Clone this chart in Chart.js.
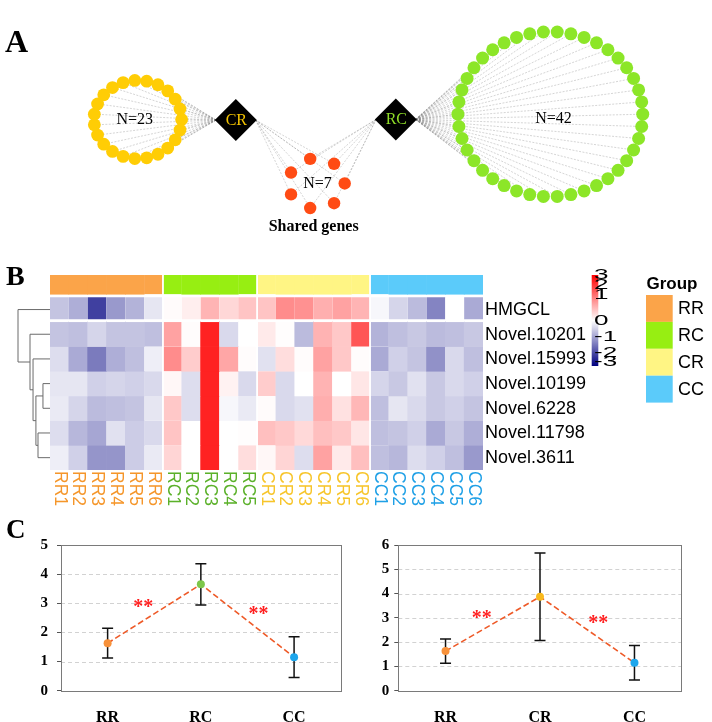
<!DOCTYPE html>
<html>
<head>
<meta charset="utf-8">
<title>Figure</title>
<script src="https://cdn.jsdelivr.net/npm/chart.js@4.4.1/dist/chart.umd.min.js"></script>
<style>
html,body{margin:0;padding:0;background:#fff;}
body{position:relative;width:712px;height:722px;overflow:hidden;}
canvas{position:absolute;display:block;}
</style>
</head>
<body>
<canvas id="net" width="712" height="262" style="left:0;top:0"></canvas>
<canvas id="heat" width="712" height="254" style="left:0;top:262px"></canvas>
<canvas id="c1" width="356" height="206" style="left:0;top:516px"></canvas>
<canvas id="c2" width="356" height="206" style="left:356px;top:516px"></canvas>
<script>
// ================= DATA =================
const hubNames = ['CR', 'RC'];
const netCounts = [23, 42, 7];            // CR-specific, RC-specific, shared
const sharedTitle = 'Shared genes';

const samples = ['RR1','RR2','RR3','RR4','RR5','RR6','RC1','RC2','RC3','RC4','RC5',
                 'CR1','CR2','CR3','CR4','CR5','CR6','CC1','CC2','CC3','CC4','CC5','CC6'];
const groups = ['RR','RC','CR','CC'];
const genes = ['HMGCL','Novel.10201','Novel.15993','Novel.10199','Novel.6228','Novel.11798','Novel.3611'];
const zHMGCL = [-0.7,-0.95,-2.25,-1.2,-0.9,-0.3, 0.05,0.2,0.88,0.47,0.7, 0.7,1.35,1.3,0.94,1.1,0.88, -0.1,-0.5,-0.8,-1.45,0.0,-1.0];
const z10201 = [-0.7,-0.75,-0.5,-0.7,-0.7,-0.75, 1.1,0.03,2.6,-0.45,0.0, 0.25,0.02,-0.8,0.9,0.65,2.0, -0.9,-0.75,-0.65,-0.8,-0.75,-0.65];
const z15993 = [-0.4,-1.0,-1.55,-0.95,-0.75,-0.2, 1.35,0.6,2.6,1.05,0.03, -0.35,0.4,0.03,1.1,0.65,0.03, -1.0,-0.55,-0.7,-1.3,-0.45,-0.75];
const z10199 = [-0.3,-0.3,-0.55,-0.5,-0.55,-0.45, 0.1,-0.4,2.6,0.15,-0.45, 0.6,-0.45,0.0,0.9,0.0,0.3, -0.5,-0.65,-0.35,-0.65,-0.45,-0.55];
const z6228  = [-0.25,-0.5,-0.8,-0.75,-0.7,-0.3, 0.65,-0.4,2.6,-0.1,-0.25, 0.05,-0.45,-0.35,0.95,0.35,0.85, -0.75,-0.3,-0.45,-0.65,-0.55,-0.7];
const z11798 = [-0.4,-0.85,-1.05,-0.35,-0.6,-0.45, 0.7,0.0,2.6,0.0,0.02, 0.75,0.65,0.45,0.75,0.65,0.3, -0.75,-0.7,-0.55,-1.0,-0.65,-0.95];
const z3611  = [-0.2,-0.55,-1.25,-1.25,-0.6,-0.25, 0.5,0.0,2.6,0.0,0.4, 0.1,0.5,-0.4,1.1,0.25,0.75, -0.75,-0.85,-0.4,-0.55,-0.75,-1.2];
const keyTicks = [3,2,1,0,-1,-2,-3];
// dendrogram merges: leaves 0..6 = genes (in order), 7+ = previous merges
const dendroA = [3, 5, 7, 2, 1, 0];
const dendroB = [4, 6, 8, 9, 10, 11];
const dendroH = [0.22, 0.375, 0.44, 0.53, 0.625, 1.0];

const groupsC1 = ['RR','RC','CC'];
const meanC1 = [1.63, 3.65, 1.15];
const errC1  = [0.51, 0.71, 0.70];
const groupsC2 = ['RR','CR','CC'];
const meanC2 = [1.63, 3.87, 1.15];
const errC2  = [0.50, 1.80, 0.71];
const ticksC1 = [0,1,2,3,4,5];
const ticksC2 = [0,1,2,3,4,5,6];
const sigMark = '**';

// ================= STYLE / LAYOUT =================
const SERIF = '"Liberation Serif", "Times New Roman", serif';
const SANS = '"Liberation Sans", Arial, sans-serif';
const groupFill = {RR:'#FBA449', RC:'#97EE12', CR:'#FFF584', CC:'#5BCBFA'};
const groupText = {RR:'#F5962A', RC:'#5BB12A', CR:'#F7C52A', CC:'#1FA0E6'};
const pointFill = {RR:'#F7913A', RC:'#7DC74A', CR:'#F9B91C', CC:'#1DA6EC'};
const groupOf = s => s.slice(0, 2);

Chart.defaults.animation = false;
Chart.defaults.events = [];
Chart.defaults.plugins.legend.display = false;
Chart.defaults.plugins.tooltip.enabled = false;
Chart.defaults.font.family = SANS;

function zColor(v) {
  v = Math.max(-3, Math.min(3, v));
  if (v >= 0) { const g = Math.round(255 * (1 - v / 3)); return `rgb(255,${g},${g})`; }
  const t = -v / 3, c = Math.round(255 * (1 - t)), b = Math.round(255 - 127 * t);
  return `rgb(${c},${c},${b})`;
}

// ---------- Panel A : network ----------
const NET = {
  hubs: [{x:228.3, y:118}, {x:398.3, y:117.3}], hubR: 21,
  rings: [{cx:124.1, cy:117.3, r:46.6}, {cx:562.5, cy:111, r:98.2}, {cx:314, cy:193.5, r:30}],
  nodeR: [6.4, 6.5, 6.2],
  nodeColor: ['#FFCD05', '#8CE628', '#FF4B14'],
  hubText: ['#F3C300', '#8EDC27'],
  labelOff: [{dx:-3.3, dy:0}, {dx:3.3, dy:5.8}, {dx:1, dy:0.5}],
  title: {x:311, y:250.5},
  edge: 'rgba(120,120,120,0.45)'
};
function ringPoints(n, r) {
  const pts = [];
  for (let k = 0; k < n; k++) {
    const a = 2 * Math.PI * k / n;
    pts.push({x: r.cx + r.r * Math.cos(a), y: r.cy + r.r * Math.sin(a)});
  }
  return pts;
}
const ringPts = netCounts.map((n, i) => ringPoints(n, NET.rings[i]));
const tip = (h, side) => ({x: h.x + side * NET.hubR, y: h.y});
const edgeSets = [];
ringPts[0].forEach(p => edgeSets.push([tip(NET.hubs[0], -1), p]));
ringPts[1].forEach(p => edgeSets.push([tip(NET.hubs[1], 1), p]));
ringPts[2].forEach(p => { edgeSets.push([tip(NET.hubs[0], 1), p]); edgeSets.push([tip(NET.hubs[1], -1), p]); });

const netDatasets = [
  {data: NET.hubs, pointStyle: 'rectRot', pointRadius: NET.hubR, pointBackgroundColor: '#000', pointBorderWidth: 0, order: 0, clip: false},
  ...ringPts.map((pts, i) => ({data: pts, pointRadius: NET.nodeR[i], pointBackgroundColor: NET.nodeColor[i], pointBorderWidth: 0, order: 1, clip: false})),
  ...edgeSets.map(seg => ({data: seg, showLine: true, pointRadius: 0, borderColor: NET.edge, borderWidth: 0.7, borderDash: [2, 1.4], order: 2, clip: false}))
];
const netPlugin = {
  id: 'netText',
  afterDatasetsDraw(chart) {
    const {ctx, scales: {x, y}} = chart;
    ctx.save();
    ctx.textAlign = 'center'; ctx.textBaseline = 'middle';
    ctx.font = `16px ${SERIF}`;
    hubNames.forEach((n, i) => {
      ctx.fillStyle = NET.hubText[i];
      ctx.fillText(n, x.getPixelForValue(NET.hubs[i].x) + 0.5, y.getPixelForValue(NET.hubs[i].y) + 0.5);
    });
    ctx.fillStyle = '#000';
    netCounts.forEach((n, i) => {
      const r = NET.rings[i], o = NET.labelOff[i];
      ctx.fillText('N=' + n, x.getPixelForValue(r.cx + o.dx), y.getPixelForValue(r.cy + o.dy));
    });
    ctx.textBaseline = 'alphabetic';
    ctx.font = `bold 16px ${SERIF}`;
    ctx.fillText(sharedTitle, x.getPixelForValue(NET.title.x), y.getPixelForValue(NET.title.y));
    ctx.textAlign = 'left';
    ctx.font = `bold 32px ${SERIF}`;
    ctx.fillText('A', 5, 52);
    ctx.restore();
  }
};
new Chart(document.getElementById('net'), {
  type: 'scatter',
  data: {datasets: netDatasets},
  options: {
    responsive: false,
    layout: {padding: 0},
    scales: {
      x: {type: 'linear', min: 0, max: 712, display: false},
      y: {type: 'linear', min: 0, max: 262, reverse: true, display: false}
    }
  },
  plugins: [netPlugin]
});

// ---------- Panel B : heatmap ----------
const HEAT = {top: 262, annot: [7.12, 7.9], yMax: 7.9, groupGap: 1.25, firstRowGap: 3, dendroW: 32,
  keyBar: {x: 591.7, y0: 275, y1: 366, w: 6.6},
  keyLabelY: [274.7, 284.7, 295.3, 320.8, 336.7, 353.3, 361.7], keyLabelX: 594, keyStretch: 1.8,
  legend: {x: 646, y: 295, w: 26.7, h: 26.9, titleY: 288.5, textX: 678}
};
const zRows = [zHMGCL, z10201, z15993, z10199, z6228, z11798, z3611];
const nRows = genes.length;
function cellBorder(c, isFirstRow) {
  if (c.type !== 'data') return 0;
  const j = c.dataIndex, g = groupOf(samples[j]);
  const first = j > 0 && groupOf(samples[j - 1]) !== g;
  const last = j < samples.length - 1 && groupOf(samples[j + 1]) !== g;
  return {left: first ? HEAT.groupGap : 0, right: last ? HEAT.groupGap : 0, top: 0, bottom: isFirstRow ? HEAT.firstRowGap : 0};
}
const heatDatasets = zRows.map((row, i) => ({
  data: row.map(() => [nRows - 1 - i, nRows - i]),
  backgroundColor: row.map(zColor),
  borderColor: '#ffffff', borderSkipped: false,
  borderWidth: c => cellBorder(c, i === 0)
}));
heatDatasets.push({
  data: samples.map(() => HEAT.annot.slice()),
  backgroundColor: samples.map(s => groupFill[groupOf(s)]),
  borderColor: '#ffffff', borderSkipped: false,
  borderWidth: c => cellBorder(c, false)
});
const heatPlugin = {
  id: 'heatExtras',
  afterDatasetsDraw(chart) {
    const {ctx, chartArea: a, scales: {x, y}} = chart;
    const T = HEAT.top;
    ctx.save();
    // column labels (rotated, reading downward)
    ctx.font = `17.5px ${SANS}`;
    ctx.textAlign = 'left'; ctx.textBaseline = 'middle';
    samples.forEach((s, j) => {
      ctx.save();
      ctx.translate(x.getPixelForValue(j), a.bottom + 1);
      ctx.rotate(Math.PI / 2);
      ctx.fillStyle = groupText[groupOf(s)];
      ctx.fillText(s, 0, 0);
      ctx.restore();
    });
    // row labels
    ctx.font = `18px ${SANS}`; ctx.fillStyle = '#000';
    genes.forEach((g, i) => ctx.fillText(g, a.right + 2, y.getPixelForValue(nRows - i - 0.5) + 0.5));
    // dendrogram
    const nx = {}, ny = {};
    for (let i = 0; i < nRows; i++) { nx[i] = a.left; ny[i] = y.getPixelForValue(nRows - i - 0.5); }
    ctx.strokeStyle = '#6b6b6b'; ctx.lineWidth = 1;
    dendroA.forEach((ca, k) => {
      const cb = dendroB[k], id = nRows + k, xx = a.left - dendroH[k] * HEAT.dendroW;
      nx[id] = xx; ny[id] = (ny[ca] + ny[cb]) / 2;
      ctx.beginPath();
      ctx.moveTo(nx[ca], ny[ca]); ctx.lineTo(xx, ny[ca]); ctx.lineTo(xx, ny[cb]); ctx.lineTo(nx[cb], ny[cb]);
      ctx.stroke();
    });
    // colour key
    const kb = HEAT.keyBar;
    const grad = ctx.createLinearGradient(0, kb.y0 - T, 0, kb.y1 - T);
    for (let v = 3; v >= -3.001; v -= 0.25) grad.addColorStop((3 - v) / 6, zColor(v));
    ctx.fillStyle = grad;
    ctx.fillRect(kb.x, kb.y0 - T, kb.w, kb.y1 - kb.y0);
    ctx.fillStyle = '#000'; ctx.font = `14.5px ${SANS}`; ctx.textBaseline = 'middle'; ctx.textAlign = 'left';
    keyTicks.forEach((v, k) => {
      ctx.save();
      ctx.translate(HEAT.keyLabelX, HEAT.keyLabelY[k] - T);
      ctx.scale(HEAT.keyStretch, 1);
      ctx.fillText(String(v), 0, 0);
      ctx.restore();
    });
    // group legend
    const L = HEAT.legend;
    ctx.font = `bold 17px ${SANS}`; ctx.textBaseline = 'alphabetic';
    ctx.fillText('Group', L.x + 0.5, L.titleY - T);
    groups.forEach((g, k) => {
      const yy = L.y - T + k * L.h;
      ctx.fillStyle = groupFill[g];
      ctx.fillRect(L.x, yy, L.w, L.h);
      ctx.fillStyle = '#000'; ctx.font = `18px ${SANS}`; ctx.textBaseline = 'middle';
      ctx.fillText(g, L.textX, yy + L.h / 2 + 0.5);
    });
    // panel label
    ctx.font = `bold 28px ${SERIF}`; ctx.textBaseline = 'alphabetic';
    ctx.fillText('B', 6, 285 - T);
    ctx.restore();
  }
};
new Chart(document.getElementById('heat'), {
  type: 'bar',
  data: {labels: samples, datasets: heatDatasets},
  options: {
    responsive: false,
    layout: {padding: {left: 50, right: 229, top: 13, bottom: 46}},
    datasets: {bar: {grouped: false, categoryPercentage: 1, barPercentage: 1}},
    scales: {
      x: {display: false},
      y: {display: false, min: 0, max: HEAT.yMax}
    }
  },
  plugins: [heatPlugin]
});

// ---------- Panel C : line charts with error bars ----------
function cExtras(errs, withLabel) {
  return {
    id: 'cExtras',
    beforeDatasetsDraw(chart) {
      const {ctx, chartArea: a, scales: {x, y}} = chart;
      ctx.save();
      ctx.strokeStyle = '#d2d2d2'; ctx.lineWidth = 1; ctx.setLineDash([4, 3]);
      y.ticks.forEach(t => {
        if (t.value <= y.min || t.value >= y.max) return;
        const py = Math.round(y.getPixelForValue(t.value)) + 0.5;
        ctx.beginPath(); ctx.moveTo(a.left, py); ctx.lineTo(a.right, py); ctx.stroke();
      });
      ctx.setLineDash([]);
      ctx.strokeStyle = '#7a7a7a';
      ctx.strokeRect(Math.round(a.left) + 0.5, Math.round(a.top) + 0.5, Math.round(a.right - a.left), Math.round(a.bottom - a.top));
      const d = chart.data.datasets[0].data;
      ctx.strokeStyle = '#111'; ctx.lineWidth = 1.5;
      d.forEach((m, i) => {
        const px = x.getPixelForValue(i), t = y.getPixelForValue(m + errs[i]), b = y.getPixelForValue(m - errs[i]);
        ctx.beginPath();
        ctx.moveTo(px, t); ctx.lineTo(px, b);
        ctx.moveTo(px - 5.5, t); ctx.lineTo(px + 5.5, t);
        ctx.moveTo(px - 5.5, b); ctx.lineTo(px + 5.5, b);
        ctx.stroke();
      });
      ctx.restore();
    },
    afterDatasetsDraw(chart) {
      const {ctx, scales: {x, y}} = chart;
      const d = chart.data.datasets[0].data;
      ctx.save();
      ctx.fillStyle = '#FF1F1F'; ctx.font = `bold 20px ${SERIF}`;
      ctx.textAlign = 'center'; ctx.textBaseline = 'alphabetic';
      for (let i = 0; i < d.length - 1; i++) {
        const mx = (x.getPixelForValue(i) + x.getPixelForValue(i + 1)) / 2;
        const my = y.getPixelForValue((d[i] + d[i + 1]) / 2);
        const dx = (d[i + 1] > d[i]) ? -11 : 11;
        ctx.fillText(sigMark, mx + dx, my - 10 + 9.6);
      }
      if (withLabel) {
        ctx.fillStyle = '#000'; ctx.textAlign = 'left';
        ctx.font = `bold 27px ${SERIF}`;
        ctx.fillText('C', 6, 22);
      }
      ctx.restore();
    }
  };
}
function makeC(id, labels, mean, errs, ticks, yW, rightPad, tickPad, withLabel) {
  new Chart(document.getElementById(id), {
    type: 'line',
    data: {labels: labels, datasets: [{
      data: mean, borderColor: '#EE5A28', borderWidth: 1.6, borderDash: [6, 3], tension: 0,
      pointRadius: 4, pointBackgroundColor: labels.map(l => pointFill[l]), pointBorderWidth: 0
    }]},
    options: {
      responsive: false,
      layout: {padding: {top: 29, right: rightPad, left: 0, bottom: 0}},
      scales: {
        x: {
          offset: true,
          grid: {display: false}, border: {display: false},
          ticks: {color: '#000', font: {family: SERIF, size: 16, weight: 'bold'}, padding: 10, maxRotation: 0},
          afterFit(s) { s.height = 31.3; }
        },
        y: {
          min: ticks[0], max: ticks[ticks.length - 1],
          afterBuildTicks(s) { s.ticks = ticks.map(v => ({value: v})); },
          grid: {drawOnChartArea: false, drawTicks: true, tickLength: 4, tickColor: '#555', tickWidth: 1},
          border: {display: false},
          ticks: {color: '#000', font: {family: SERIF, size: 15, weight: 'bold'}, padding: tickPad},
          afterFit(s) { s.width = yW; }
        }
      }
    },
    plugins: [cExtras(errs, withLabel)]
  });
}
makeC('c1', groupsC1, meanC1, errC1, ticksC1, 61, 15.3, 9, true);
makeC('c2', groupsC2, meanC2, errC2, ticksC2, 42.3, 30.3, 5, false);
</script>
</body>
</html>
